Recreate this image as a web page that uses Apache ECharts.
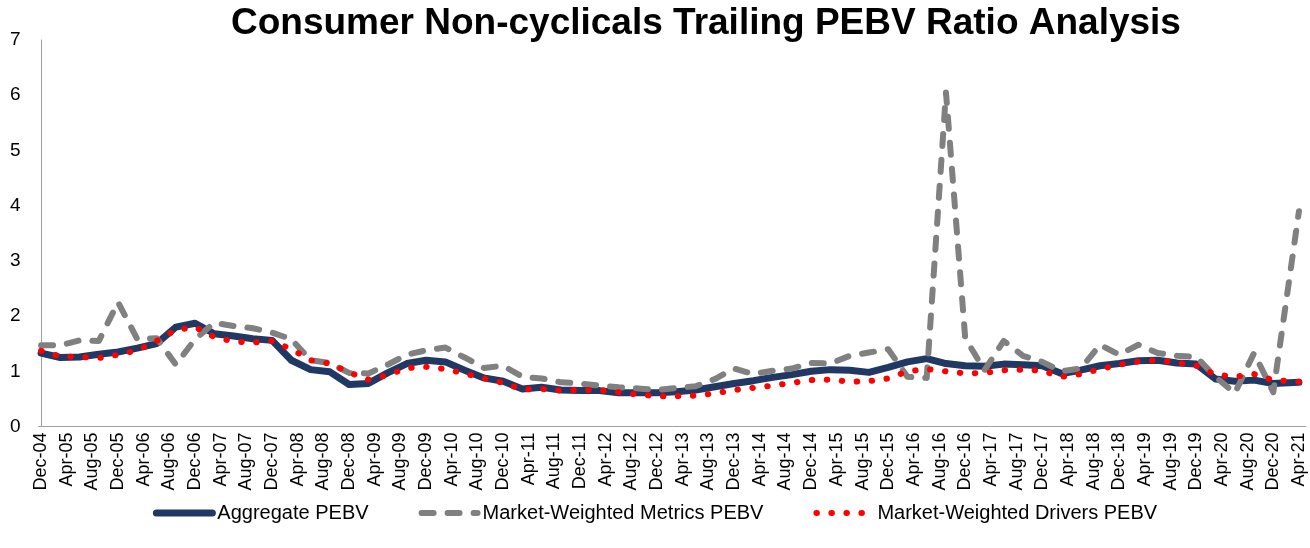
<!DOCTYPE html>
<html>
<head>
<meta charset="utf-8">
<script src="https://cdn.jsdelivr.net/npm/echarts@6/dist/echarts.min.js"></script>
<style>
  html, body { margin: 0; padding: 0; background: #fff; }
  #chart { width: 1310px; height: 548px; }
</style>
</head>
<body>
<div id="chart"></div>
<script>
/* x labels, one every 4 months starting Dec-04 */
var tickLabels = ["Dec-04","Apr-05","Aug-05","Dec-05","Apr-06","Aug-06","Dec-06","Apr-07","Aug-07","Dec-07",
    "Apr-08","Aug-08","Dec-08","Apr-09","Aug-09","Dec-09","Apr-10","Aug-10","Dec-10","Apr-11",
    "Aug-11","Dec-11","Apr-12","Aug-12","Dec-12","Apr-13","Aug-13","Dec-13","Apr-14","Aug-14",
    "Dec-14","Apr-15","Aug-15","Dec-15","Apr-16","Aug-16","Dec-16","Apr-17","Aug-17","Dec-17",
    "Apr-18","Aug-18","Dec-18","Apr-19","Aug-19","Dec-19","Apr-20","Aug-20","Dec-20","Apr-21"];
var tickMonths = [0,4,8,12,16,20,24,28,32,36,40,44,48,52,56,60,64,68,72,76,80,84,88,92,96,100,
    104,108,112,116,120,124,128,132,136,140,144,148,152,156,160,164,168,172,176,180,184,188,192,196];

/* measurement points, months after Dec-04 */
var pointMonths = [0,3,6,9,12,15,18,21,24,27,30,33,36,39,42,45,48,51,54,57,60,63,66,69,72,75,78,81,
    84,87,90,93,96,99,102,105,108,111,114,117,120,123,126,129,132,135,138,141,144,147,150,153,156,
    159,162,165,168,171,174,177,180,183,186,189,192,196];

var aggregate = [1.33,1.25,1.26,1.31,1.35,1.42,1.50,1.80,1.87,1.68,1.64,1.59,1.56,1.20,1.03,0.99,0.76,0.78,
    0.97,1.14,1.20,1.17,1.02,0.88,0.82,0.68,0.71,0.66,0.65,0.65,0.61,0.61,0.61,0.63,0.66,0.72,0.78,0.83,
    0.89,0.94,1.00,1.03,1.02,0.98,1.07,1.17,1.23,1.14,1.10,1.09,1.13,1.12,1.10,0.96,1.02,1.10,1.14,1.19,
    1.20,1.15,1.13,0.86,0.82,0.84,0.78,0.80];
var metrics = [1.47,1.47,1.56,1.55,2.25,1.58,1.60,1.12,1.58,1.88,1.82,1.78,1.70,1.58,1.20,1.15,0.97,0.96,
    1.12,1.30,1.38,1.43,1.25,1.06,1.10,0.90,0.87,0.80,0.78,0.74,0.71,0.69,0.66,0.70,0.73,0.86,1.05,0.95,
    1.01,1.05,1.15,1.14,1.28,1.34,1.40,0.90,0.88,6.05,1.60,1.02,1.55,1.28,1.17,1.00,1.05,1.48,1.30,1.48,
    1.33,1.28,1.26,0.90,0.60,1.33,0.62,3.90];
var drivers = [1.37,1.27,1.26,1.24,1.30,1.38,1.55,1.75,1.80,1.62,1.54,1.52,1.55,1.40,1.20,1.14,0.98,0.85,
    0.93,1.06,1.08,1.04,0.96,0.87,0.79,0.67,0.68,0.65,0.66,0.66,0.62,0.58,0.55,0.55,0.56,0.60,0.66,0.70,
    0.74,0.79,0.84,0.85,0.81,0.82,0.87,1.00,1.04,1.00,0.96,0.97,1.02,1.03,1.01,0.90,0.95,1.04,1.12,1.18,
    1.20,1.16,1.10,0.94,0.90,0.95,0.84,0.81];

function pairs(vals) {
    return vals.map(function (v, i) { return [pointMonths[i], v]; });
}

var font = '"Liberation Sans", Arial, sans-serif';
var chart = echarts.init(document.getElementById('chart'));

var option = {
    animation: false,
    title: {
        text: 'Consumer Non-cyclicals Trailing PEBV Ratio Analysis',
        left: 226,
        top: 0,
        textStyle: { fontFamily: font, fontSize: 37, fontWeight: 'bold', color: '#000' }
    },
    grid: { left: 38.5, right: 4, top: 40, bottom: 121.5, containLabel: false },
    legend: {
        top: 498,
        left: 'center',
        itemWidth: 56,
        itemHeight: 14,
        itemGap: 50,
        lineStyle: { width: 'inherit' },
        itemStyle: { opacity: 0, color: 'transparent', borderWidth: 0 },
        textStyle: { fontFamily: font, fontSize: 20, color: '#000' },
        data: ['Aggregate PEBV', 'Market-Weighted Metrics PEBV', 'Market-Weighted Drivers PEBV']
    },
    xAxis: {
        type: 'value',
        min: -0.4,
        max: 197.1,
        axisLine: { show: true, lineStyle: { color: '#a0a0a0', width: 1 } },
        axisTick: { show: false },
        splitLine: { show: false },
        axisLabel: {
            customValues: tickMonths,
            rotate: 90,
            margin: 6,
            fontFamily: font,
            fontSize: 18,
            color: '#000',
            formatter: function (v) { return tickLabels[Math.round(v / 4)]; }
        }
    },
    yAxis: {
        type: 'value',
        min: 0,
        max: 7,
        interval: 1,
        axisLine: { show: true, lineStyle: { color: '#a0a0a0', width: 1 } },
        axisTick: { show: false },
        splitLine: { show: false },
        axisLabel: { margin: 18, fontFamily: font, fontSize: 19, color: '#000' }
    },
    series: [
        {
            name: 'Aggregate PEBV',
            type: 'line',
            data: pairs(aggregate),
            symbol: 'none',
            color: '#1f3864',
            lineStyle: { color: '#1f3864', width: 7, cap: 'round', join: 'round' }
        },
        {
            name: 'Market-Weighted Metrics PEBV',
            type: 'line',
            data: pairs(metrics),
            symbol: 'none',
            color: '#808080',
            lineStyle: { color: '#808080', width: 6, type: [12, 14], cap: 'round', join: 'round' }
        },
        {
            name: 'Market-Weighted Drivers PEBV',
            type: 'line',
            data: pairs(drivers),
            symbol: 'none',
            color: '#ff0000',
            lineStyle: { color: '#ff0000', width: 6, type: [0.5, 14.5], cap: 'round', join: 'round' }
        }
    ]
};
chart.setOption(option);
</script>
</body>
</html>
